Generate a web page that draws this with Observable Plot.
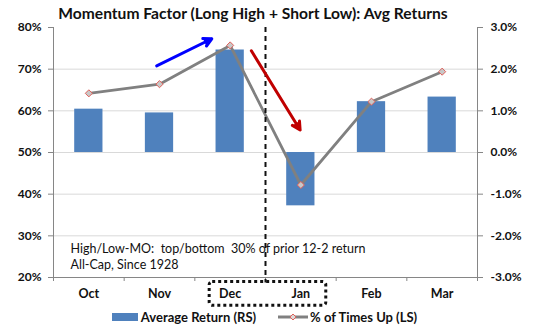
<!DOCTYPE html>
<html>
<head>
<meta charset="utf-8">
<script src="https://cdn.jsdelivr.net/npm/d3@7"></script>
<script src="https://cdn.jsdelivr.net/npm/@observablehq/plot@0.6"></script>
<style>
  body { margin: 0; background: white; font-family: Lato, "Open Sans", sans-serif; }
  #wrap { position: relative; width: 535px; height: 331px; overflow: hidden; }
  #title { position: absolute; left: 0; top: 4px; width: 506px; text-align: center; font-weight: bold; font-size: 15.6px; color: #111; }
  #legend { position: absolute; left: 0; top: 309px; width: 535px; display: flex; justify-content: center; align-items: center; font-weight: bold; font-size: 13px; color: #111; }
  .sw { display: inline-block; }
  #chart svg { display: block; }
</style>
</head>
<body>
<div id="wrap">
  <div id="chart"></div>
  <div id="title">Momentum Factor (Long High + Short Low): Avg Returns</div>
  <div id="legend">
    <span class="sw" style="width:26px;height:8px;background:#4F81BD;margin-right:3px;margin-left:-6px"></span>
    <span>Average Return (RS)</span>
    <svg width="30" height="10" style="margin-left:22px;margin-right:2px">
      <line x1="0" y1="5" x2="30" y2="5" stroke="#808080" stroke-width="3"/>
      <path d="M15,2 L18,5 L15,8 L12,5 Z" fill="#d9d9d9" stroke="#E0605A" stroke-width="1"/>
    </svg>
    <span>% of Times Up (LS)</span>
  </div>
</div>
<script>
const months = ["Oct", "Nov", "Dec", "Jan", "Feb", "Mar"];
const avgReturn = [1.04, 0.95, 2.46, -1.28, 1.22, 1.33];      // % (right scale)
const pctTimesUp = [64.2, 66.4, 75.7, 42.2, 62.2, 69.4];      // % (left scale)
const leftTicks = [20, 30, 40, 50, 60, 70, 80];
const rightTickLabels = ["-3.0%", "-2.0%", "-1.0%", "0.0%", "1.0%", "2.0%", "3.0%"];
const noteLines = ["High/Low-MO:  top/bottom  30% of prior 12-2 return", "All-Cap, Since 1928"];

// right scale mapped onto left scale: 0% <-> 50%, 1% <-> 10 points
const toLeft = r => 50 + r * 10;

const rows = months.map((m, i) => ({i, month: m, ret: avgReturn[i], up: pctTimesUp[i]}));
const arrows = [
  {x1: 0.96, y1: 70.8, x2: 1.74, y2: 77.3, color: "#0000FF"},
  {x1: 2.30, y1: 74.4, x2: 2.99, y2: 55.4, color: "#C00000"}
];
const boundaries = d3.range(-0.5, 6, 1);

const chart = Plot.plot({
  width: 535,
  height: 331,
  marginTop: 27,
  marginBottom: 54,
  marginLeft: 53,
  marginRight: 58,
  style: {fontFamily: "Lato, 'Open Sans', sans-serif", background: "white", color: "#111"},
  x: {type: "linear", domain: [-0.5, 5.5], axis: null},
  y: {domain: [20, 80], axis: null},
  marks: [
    Plot.ruleY([30, 40, 50, 60, 70], {stroke: "#d9d9d9", strokeWidth: 1}),
    Plot.rectY(rows, {x1: d => d.i - 0.2, x2: d => d.i + 0.2, y1: () => 50, y2: d => toLeft(d.ret), fill: "#4F81BD"}),
    Plot.ruleX([-0.5, 5.5], {stroke: "#868686"}),
    Plot.ruleY([20], {stroke: "#868686"}),
    Plot.axisY({anchor: "left", ticks: leftTicks, tickFormat: d => d + "%", tickSize: 5, tickPadding: 7,
      stroke: "#868686", fill: "#111", fontWeight: "bold", fontSize: 12}),
    Plot.axisY({anchor: "right", ticks: leftTicks, tickFormat: (d, k) => rightTickLabels[k], tickSize: 5, tickPadding: 8,
      stroke: "#868686", fill: "#111", fontWeight: "bold", fontSize: 12}),
    Plot.axisX({anchor: "bottom", ticks: boundaries, tickFormat: () => "", tickSize: 4, stroke: "#868686"}),
    Plot.axisX({anchor: "bottom", ticks: d3.range(6), tickFormat: k => months[k], tickSize: 0, tickPadding: 12,
      fill: "#111", fontWeight: "bold", fontSize: 12.5}),
    Plot.line(rows, {x: "i", y: "up", stroke: "#808080", strokeWidth: 2.8}),
    Plot.dot(rows, {x: "i", y: "up", symbol: "diamond2", r: 3.2, stroke: "#E0605A", fill: "#c8c8c8", strokeWidth: 1}),
    Plot.ruleX([2.5], {y1: 80, y2: 18.7, stroke: "#111", strokeWidth: 2, strokeDasharray: "5,4"}),
    Plot.arrow(arrows, {x1: "x1", y1: "y1", x2: "x2", y2: "y2", stroke: "color", strokeWidth: 3, headLength: 4.5, headAngle: 55}),
    Plot.text([noteLines.join("\n")], {x: -0.5, y: 28.8, dx: 17, textAnchor: "start", lineAnchor: "top",
      lineHeight: 1.33, fontSize: 12.5, fill: "#111"}),
    Plot.rect([{x1: 1.71, x2: 3.36, y1: 13.2, y2: 18.9}], {x1: "x1", x2: "x2", y1: "y1", y2: "y2",
      fill: "none", stroke: "#111", strokeWidth: 3, strokeDasharray: "3,3", rx: 3})
  ]
});
// fill the arrow heads (solid triangles as in the reference)
d3.select(chart).selectAll('g[aria-label="arrow"] path').each(function() {
  const s = this.getAttribute("stroke") || this.parentNode.getAttribute("stroke");
  this.setAttribute("fill", s);
  this.setAttribute("stroke-linejoin", "miter");
});
document.getElementById("chart").appendChild(chart);
</script>
</body>
</html>
